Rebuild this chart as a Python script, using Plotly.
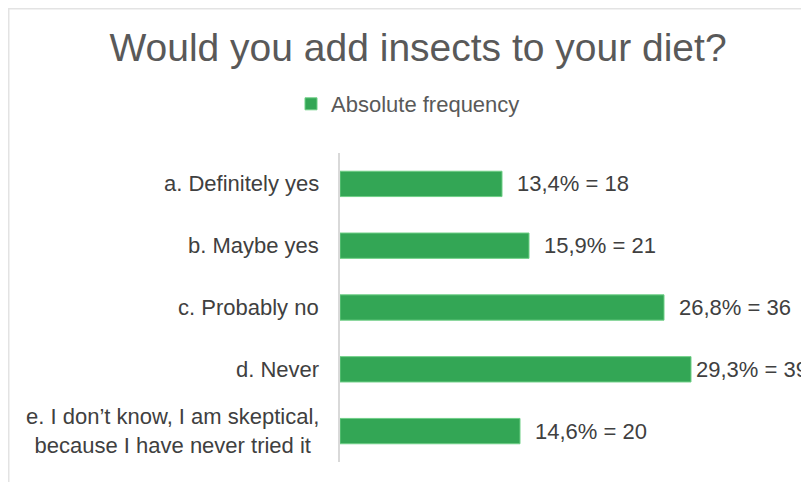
import plotly.graph_objects as go

categories = [
    "a. Definitely yes",
    "b. Maybe yes",
    "c. Probably no",
    "d. Never",
    "e. I don’t know, I am skeptical,<br>because I have never tried it",
]
counts = [18, 21, 36, 39, 20]
percents = ["13,4", "15,9", "26,8", "29,3", "14,6"]
series_name = "Absolute frequency"
title_text = "Would you add insects to your diet?"

W, H = 809, 482
L, R, T, B = 332, 27, 145, 28
FONT = "Liberation Sans, Arial, sans-serif"
BAR = "#33A655"
BAR_EDGE = "#6FCF86"
TXT = "#595959"
LBL = "#404040"

fig = go.Figure()
fig.add_trace(go.Bar(
    x=counts, y=categories, orientation="h", name=series_name,
    marker=dict(color=BAR, line=dict(width=1, color=BAR_EDGE)), width=0.41,
    showlegend=True,
))

annotations = []
for cat, n, p in zip(categories, counts, percents):
    annotations.append(dict(
        x=n, y=cat, xref="x", yref="y", text=f"{p}% = {n}",
        showarrow=False, xanchor="left", yanchor="middle",
        xshift=3 if n == max(counts) else 13,
        font=dict(family=FONT, size=22, color=LBL),
    ))
    annotations.append(dict(
        x=0, y=cat, xref="paper", yref="y", text=cat,
        showarrow=False, xanchor="right", yanchor="middle", align="center",
        xshift=-19,
        font=dict(family=FONT, size=22, color=LBL),
    ))

pw = W - L - R
ph = H - T - B
def px_x(px):
    return (px - L) / pw
def px_y(py):
    return (H - B - py) / ph

fig.update_layout(
    width=W, height=H,
    margin=dict(l=L, r=R, t=T, b=B),
    paper_bgcolor="white", plot_bgcolor="white",
    title=dict(text=title_text, x=410 / W, xanchor="center",
               y=1 - 39 / H, yanchor="middle",
               font=dict(family=FONT, size=39, color=TXT)),
    legend=dict(orientation="h", x=px_x(400), xanchor="center",
                y=px_y(96), yanchor="middle",
                font=dict(family=FONT, size=22, color=TXT),
                itemwidth=30, bgcolor="rgba(0,0,0,0)"),
    xaxis=dict(range=[0, 50], showgrid=False, zeroline=False,
               showticklabels=False, showline=False, fixedrange=True),
    yaxis=dict(autorange="reversed", showticklabels=False, showgrid=False,
               zeroline=False, showline=True, linecolor="#d9d9d9",
               linewidth=2, ticks=""),
    bargap=0.6,
    annotations=annotations,
    shapes=[dict(type="rect", xref="paper", yref="paper",
                 x0=px_x(0.75), x1=px_x(900), y0=px_y(600), y1=px_y(0.75),
                 line=dict(color="#e3e3e3", width=1.5),
                 fillcolor="rgba(0,0,0,0)", layer="below")],
)

fig.write_html("out.html")
